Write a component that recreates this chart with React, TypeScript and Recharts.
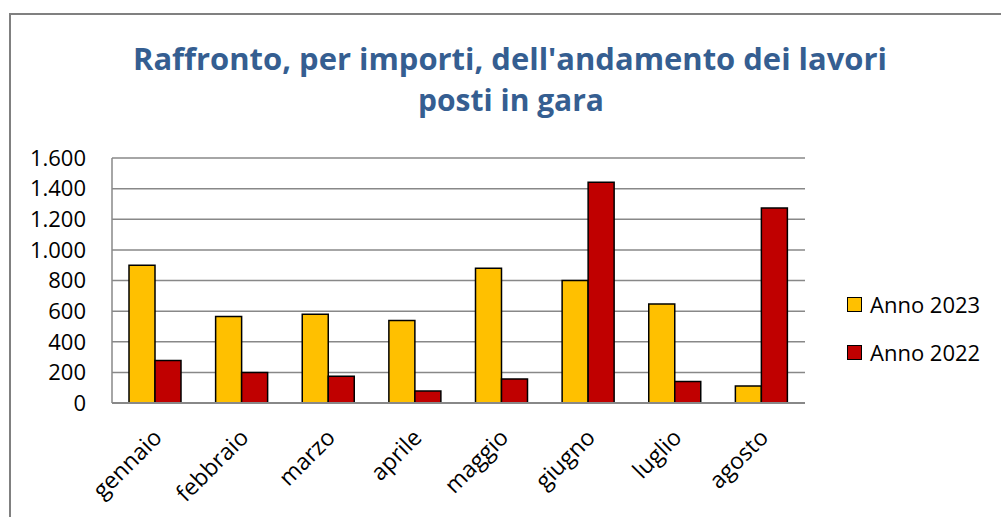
import React from 'react';
import { BarChart, Bar, XAxis, YAxis, CartesianGrid } from 'recharts';

const months = ['gennaio', 'febbraio', 'marzo', 'aprile', 'maggio', 'giugno', 'luglio', 'agosto'];
const anno2023 = [900, 565, 580, 538, 880, 800, 647, 111];
const anno2022 = [278, 200, 175, 78, 157, 1441, 141, 1273];
const yTicks = [0, 200, 400, 600, 800, 1000, 1200, 1400, 1600];
const seriesNames = ['Anno 2023', 'Anno 2022'];
const seriesColors = ['#FFC000', '#C00000'];
const titleLines = ["Raffronto, per importi, dell'andamento dei lavori", 'posti in gara'];

const data = months.map((m, i) => ({ month: m, a2023: anno2023[i], a2022: anno2022[i] }));

const FONT = '"Open Sans", sans-serif';

// 1600 -> "1.600"
const fmt = (v: number) => String(v).replace(/\B(?=(\d{3})+(?!\d))/g, '.');

function MonthTick(props: any) {
  const { x, y, payload } = props;
  return (
    <text
      x={x + 8}
      y={y + 36}
      textAnchor="end"
      transform={`rotate(-45, ${x + 8}, ${y + 36})`}
      fontFamily={FONT}
      fontSize={23}
      fill="#000"
    >
      {payload.value}
    </text>
  );
}

export default function App() {
  return (
    <div style={{ position: 'fixed', left: 0, top: 0, width: 1001, height: 517, overflow: 'hidden', background: '#fff' }}>
      {/* chart frame, runs off the right and bottom edge */}
      <div style={{ position: 'absolute', left: 9, top: 13, width: 1010, height: 530, border: '2px solid #808080' }} />

      <svg width={1001} height={140} style={{ position: 'absolute', left: 0, top: 0 }}>
        <text x={510} y={70} textAnchor="middle" fontFamily={FONT} fontWeight={700} fontSize={31} fill="#355E91"
          textLength={754} lengthAdjust="spacingAndGlyphs">
          {titleLines[0]}
        </text>
        <text x={511} y={111} textAnchor="middle" fontFamily={FONT} fontWeight={700} fontSize={31} fill="#355E91"
          textLength={186} lengthAdjust="spacingAndGlyphs">
          {titleLines[1]}
        </text>
      </svg>

      <div style={{ position: 'absolute', left: 0, top: 0 }}>
        <BarChart width={1001} height={517} data={data} margin={{ top: 158, right: 196, bottom: 0, left: 0 }}
          barSize={26} barGap={0}>
          <CartesianGrid vertical={false} stroke="#888" strokeWidth={1.5} />
          <XAxis dataKey="month" height={114} tickLine={false} tickSize={0} tickMargin={0}
            axisLine={{ stroke: '#888', strokeWidth: 2 }} tick={<MonthTick />} interval={0} />
          <YAxis width={112} domain={[0, 1600]} ticks={yTicks} interval={0} tickFormatter={fmt} tickLine={false}
            tickSize={0} tickMargin={26} axisLine={{ stroke: '#888', strokeWidth: 1.5 }}
            tick={{ fill: '#000', fontSize: 22, fontFamily: FONT }} />
          <Bar dataKey="a2023" name={seriesNames[0]} fill={seriesColors[0]} stroke="#000" strokeWidth={1.5} isAnimationActive={false} />
          <Bar dataKey="a2022" name={seriesNames[1]} fill={seriesColors[1]} stroke="#000" strokeWidth={1.5} isAnimationActive={false} />
        </BarChart>
      </div>

      {seriesNames.map((name, i) => (
        <div key={name} style={{ position: 'absolute', left: 847, top: 294 + i * 48, display: 'flex', alignItems: 'center' }}>
          <div style={{ width: 13, height: 13, background: seriesColors[i], border: '1.5px solid #000', marginRight: 8 }} />
          <span style={{ fontFamily: FONT, fontSize: 22, lineHeight: '20px', color: '#000' }}>{name}</span>
        </div>
      ))}
    </div>
  );
}
